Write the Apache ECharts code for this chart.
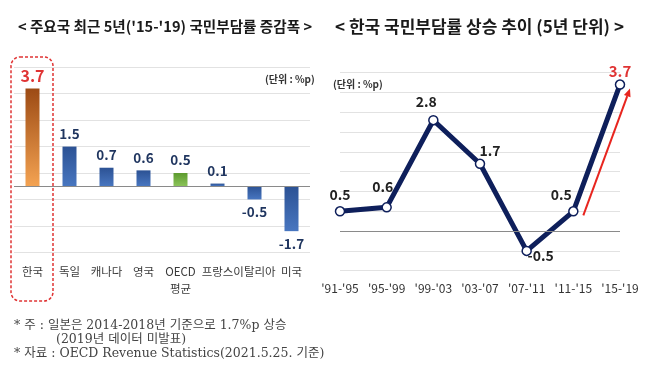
<!DOCTYPE html>
<html><head><meta charset="utf-8">
<script src="https://cdn.jsdelivr.net/npm/echarts@6/dist/echarts.min.js"></script>
<style>html,body{margin:0;padding:0;background:#fff}#c{width:647px;height:373px}</style>
</head><body><div id="c"></div>
<script>
var countries = ['한국','독일','캐나다','영국','OECD\n평균','프랑스','이탈리아','미국'];
var changeValues = [3.7, 1.5, 0.7, 0.6, 0.5, 0.1, -0.5, -1.7];
var periods = ["'91-'95","'95-'99","'99-'03","'03-'07","'07-'11","'11-'15","'15-'19"];
var riseValues = [0.5, 0.6, 2.8, 1.7, -0.5, 0.5, 3.7];

var KR = "'Noto Sans CJK KR', 'Noto Sans', sans-serif";
var SERIF = "'DejaVu Serif', 'Liberation Serif', 'Noto Sans CJK KR', serif";

function grad(top, bottom){
  return new echarts.graphic.LinearGradient(0,0,0,1,[{offset:0,color:top},{offset:1,color:bottom}]);
}
var barData = changeValues.map(function(v,i){
  var color;
  if (i === 0) color = grad('#9c4a14', '#f4a352');
  else if (countries[i].indexOf('OECD') === 0) color = grad('#5c9a2e', '#8cc45a');
  else color = grad('#2c5294', '#4876c0');
  var item = {value: v, itemStyle: {color: color}};
  if (i === 0) item.label = {color: '#e03434', fontSize: 16, distance: 5};
  if (v < 0) item.label = {position: 'bottom', distance: 6};
  return item;
});

var lineOffsets = [[0,1],[-4,-3],[-7,-1],[10,4],[14,22],[-12,1],[0,4]];
var lineData = riseValues.map(function(v,i){
  var item = {value: v, label: {offset: lineOffsets[i]}};
  if (i === riseValues.length-1) item.label.color = '#e03434', item.label.fontSize = 15;
  return item;
});

var chart = echarts.init(document.getElementById('c'));
var option = {
  animation: false,
  backgroundColor: '#fff',
  textStyle: {fontFamily: KR},
  title: [
    {text: "< 주요국 최근 5년('15-'19) 국민부담률 증감폭 >", left: 13, top: 14,
     textStyle: {fontFamily: KR, fontSize: 14.6, fontWeight: 'bold', color: '#1a1a1a'}},
    {text: "< 한국 국민부담률 상승 추이 (5년 단위) >", left: 330, top: 13,
     textStyle: {fontFamily: KR, fontSize: 17, fontWeight: 'bold', color: '#1a1a1a'}}
  ],
  grid: [
    {left: 14, top: 67.3, width: 296, height: 185},
    {left: 340, top: 72.7, width: 280, height: 198}
  ],
  xAxis: [
    {gridIndex: 0, type: 'category', data: countries,
     axisLine: {show: false}, axisTick: {show: false},
     axisLabel: {margin: 11, color: '#3a3a3a', fontSize: 11.5, lineHeight: 17, interval: 0}},
    {gridIndex: 1, type: 'category', data: periods, boundaryGap: false,
     axisLine: {show: false}, axisTick: {show: false},
     axisLabel: {margin: 12, color: '#333', fontSize: 12, interval: 0}}
  ],
  yAxis: [
    {gridIndex: 0, type: 'value', min: -2.5, max: 4.5, interval: 1,
     axisLabel: {show: false}, axisLine: {show: false}, axisTick: {show: false},
     splitLine: {lineStyle: {color: '#e2e2e2', width: 1}}},
    {gridIndex: 1, type: 'value', min: -1, max: 4, interval: 0.5,
     axisLabel: {show: false}, axisLine: {show: false}, axisTick: {show: false},
     splitLine: {lineStyle: {color: '#e2e2e2', width: 1}}}
  ],
  series: [
    {type: 'bar', xAxisIndex: 0, yAxisIndex: 0, data: barData, barWidth: 14,
     label: {show: true, position: 'top', distance: 6, fontFamily: KR, fontWeight: 'bold',
             fontSize: 13.5, color: '#1f355f'},
     markLine: {silent: true, symbol: 'none', label: {show: false},
                lineStyle: {color: '#8a8a8a', width: 1.2, type: 'solid'},
                data: [{yAxis: 0}]}},
    {id: 'rise', type: 'line', xAxisIndex: 1, yAxisIndex: 1, data: lineData,
     lineStyle: {color: '#0e1f5b', width: 5},
     symbol: 'circle', symbolSize: 9,
     itemStyle: {color: '#ffffff', borderColor: '#0e1f5b', borderWidth: 1.5},
     label: {show: true, position: 'top', distance: 5, fontFamily: KR, fontWeight: 'bold',
             fontSize: 14, color: '#222'},
     markLine: {silent: true, symbol: 'none', label: {show: false},
                lineStyle: {color: '#8a8a8a', width: 1.2, type: 'solid'},
                data: [{yAxis: 0}]}, z: 3}
  ],
  graphic: [
    {type: 'rect', shape: {x: 11, y: 57, width: 42, height: 244, r: 9},
     style: {fill: 'none', stroke: '#e03434', lineWidth: 1.5, lineDash: [3, 2]}, z: 10},
    {type: 'text', left: 265, top: 74,
     style: {text: '(단위 : %p)', font: 'bold 10px ' + KR, fill: '#333'}},
    {type: 'text', left: 333, top: 79,
     style: {text: '(단위 : %p)', font: 'bold 10px ' + KR, fill: '#333'}},
    {type: 'text', left: 14, top: 319,
     style: {text: '* 주 : 일본은 2014-2018년 기준으로 1.7%p 상승', font: '12.5px ' + SERIF, fill: '#444'}},
    {type: 'text', left: 56, top: 333,
     style: {text: '(2019년 데이터 미발표)', font: '12.5px ' + SERIF, fill: '#444'}},
    {type: 'text', left: 14, top: 347,
     style: {text: '* 자료 : OECD Revenue Statistics(2021.5.25. 기준)', font: '12.5px ' + SERIF, fill: '#444'}}
  ]
};
chart.setOption(option);

// red rising arrow alongside the last segment
var p6 = chart.convertToPixel({seriesId: 'rise'}, [5, riseValues[5]]);
var p7 = chart.convertToPixel({seriesId: 'rise'}, [6, riseValues[6]]);
var sx = p6[0] + 10, sy = p6[1] + 4, ex = p7[0] + 10, ey = p7[1] + 4;
var dx = ex - sx, dy = ey - sy, len = Math.sqrt(dx*dx + dy*dy);
var ux = dx/len, uy = dy/len, hl = 8, hw = 3.5;
var bx = ex - ux*hl, by = ey - uy*hl;
chart.setOption({graphic: option.graphic.concat([
  {type: 'line', shape: {x1: sx, y1: sy, x2: bx, y2: by},
   style: {stroke: '#e8251f', lineWidth: 2}, z: 10},
  {type: 'polygon', shape: {points: [[ex, ey], [bx - uy*hw, by + ux*hw], [bx + uy*hw, by - ux*hw]]},
   style: {fill: '#e8251f'}, z: 10}
])});
</script></body></html>
